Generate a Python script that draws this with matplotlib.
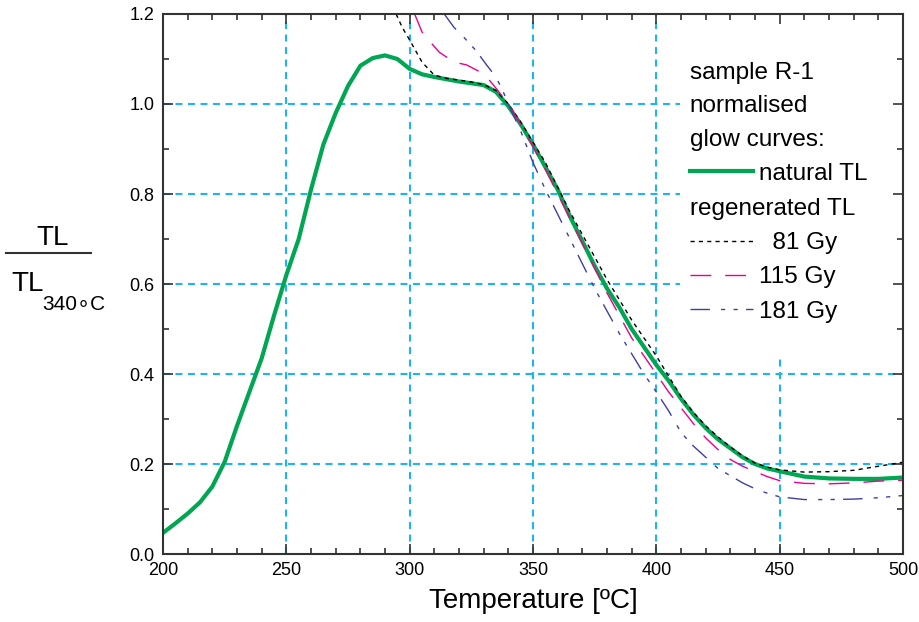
import matplotlib
matplotlib.use("Agg")
import matplotlib.pyplot as plt
from matplotlib.lines import Line2D
from matplotlib.patches import Rectangle
from matplotlib.ticker import MultipleLocator

plt.rcParams['font.family'] = ['Liberation Sans', 'DejaVu Sans']
plt.rcParams['lines.scale_dashes'] = False

# natural TL (green)
nat_t = [200, 205, 210, 215, 220, 225, 230, 235, 240, 245, 250, 255, 260, 265, 270,
         275, 280, 285, 290, 295, 300, 305, 310, 315, 320, 325, 330, 335, 340, 345,
         350, 355, 360, 365, 370, 375, 380, 385, 390, 395, 400, 405, 410, 415, 420,
         425, 430, 435, 440, 445, 450, 455, 460, 470, 480, 490, 500]
nat_tl = [0.047, 0.068, 0.090, 0.115, 0.150, 0.205, 0.285, 0.360, 0.435, 0.530, 0.620,
          0.700, 0.810, 0.910, 0.980, 1.040, 1.085, 1.102, 1.108, 1.100, 1.078, 1.066,
          1.060, 1.055, 1.050, 1.046, 1.042, 1.027, 0.995, 0.955, 0.910, 0.860, 0.810,
          0.750, 0.695, 0.640, 0.590, 0.548, 0.500, 0.460, 0.420, 0.385, 0.345, 0.310,
          0.280, 0.255, 0.235, 0.215, 0.200, 0.190, 0.184, 0.178, 0.172, 0.168, 0.167,
          0.167, 0.170]

# regenerated 81 Gy (black)
g81_t = [294.5, 297, 300, 305, 310, 315, 320, 325, 330, 335, 340, 345, 350, 355, 360,
         365, 370, 375, 380, 385, 390, 395, 400, 405, 410, 415, 420, 425, 430, 435, 440,
         445, 450, 460, 470, 480, 490, 500]
g81_tl = [1.200, 1.170, 1.142, 1.093, 1.064, 1.057, 1.053, 1.049, 1.043, 1.030, 1.000,
          0.960, 0.915, 0.870, 0.815, 0.760, 0.710, 0.660, 0.610, 0.565, 0.520, 0.480,
          0.440, 0.395, 0.350, 0.315, 0.285, 0.260, 0.238, 0.218, 0.202, 0.193, 0.187,
          0.182, 0.183, 0.186, 0.195, 0.204]

# regenerated 115 Gy (pink)
g115_t = [302, 305, 308, 312, 318, 323, 329, 332, 335, 340, 345, 350, 355, 360, 365,
          370, 375, 380, 385, 390, 395, 400, 405, 410, 415, 420, 425, 430, 435, 440,
          445, 450, 460, 470, 480, 490, 500]
g115_tl = [1.200, 1.160, 1.140, 1.115, 1.093, 1.087, 1.070, 1.055, 1.035, 1.000, 0.955,
           0.905, 0.855, 0.800, 0.745, 0.690, 0.635, 0.580, 0.530, 0.480, 0.440, 0.400,
           0.360, 0.325, 0.290, 0.258, 0.232, 0.210, 0.195, 0.183, 0.172, 0.163, 0.157,
           0.156, 0.158, 0.162, 0.164]

# regenerated 181 Gy (blue)
g181_t = [314, 318, 322, 327, 331, 335, 338, 340, 345, 350, 355, 360, 365, 370, 375,
          380, 385, 390, 395, 400, 405, 410, 415, 420, 425, 430, 435, 440, 445, 450,
          460, 470, 480, 490, 500]
g181_tl = [1.200, 1.170, 1.148, 1.118, 1.088, 1.060, 1.026, 1.000, 0.940, 0.870, 0.810,
           0.755, 0.700, 0.645, 0.590, 0.540, 0.490, 0.445, 0.400, 0.360, 0.318, 0.270,
           0.240, 0.215, 0.190, 0.174, 0.158, 0.145, 0.135, 0.127, 0.121, 0.121, 0.122,
           0.125, 0.130]

green = '#00a651'
pink = '#ec008c'
blue = '#3f3f9f'
grid_blue = '#1cb5ef'

fig = plt.figure(figsize=(9.19, 6.22), dpi=100)
ax = fig.add_axes([0.1774, 0.1093, 0.8052, 0.8682])

for v in [250, 300, 350, 400, 450]:
    ax.axvline(v, color=grid_blue, lw=1.5, dashes=(5, 4), zorder=0)
for v in [0.2, 0.4, 0.6, 0.8, 1.0]:
    ax.axhline(v, color=grid_blue, lw=1.5, dashes=(5, 4), zorder=0)

# white patch behind the legend text, hides the grid there
ax.add_patch(Rectangle((0.699, 0.37), 0.301, 0.63, transform=ax.transAxes,
                       facecolor='white', edgecolor='none', zorder=1))

l81, = ax.plot(g81_t, g81_tl, color='black', lw=1.0, dashes=(3, 3), zorder=3)
l115, = ax.plot(g115_t, g115_tl, color=pink, lw=1.0, dashes=(15, 10), zorder=3)
l181, = ax.plot(g181_t, g181_tl, color=blue, lw=1.0, dashes=(14, 8, 3, 6, 3, 6), zorder=3)
lnat, = ax.plot(nat_t, nat_tl, color=green, lw=3.0, zorder=2)

ax.set_xlim(200, 500)
ax.set_ylim(0, 1.2)
ax.xaxis.set_major_locator(MultipleLocator(50))
ax.xaxis.set_minor_locator(MultipleLocator(10))
ax.yaxis.set_major_locator(MultipleLocator(0.2))
ax.yaxis.set_minor_locator(MultipleLocator(0.1))
ax.tick_params(which='both', direction='in', top=True, right=True, width=1.2, colors='#333333',
               labelcolor='black')
ax.tick_params(which='major', length=7, labelsize=13, pad=6)
ax.tick_params(which='minor', length=4)
ax.yaxis.set_major_formatter(plt.FuncFormatter(lambda v, p: f"{v:.1f}"))
for s in ax.spines.values():
    s.set_linewidth(1.5)
    s.set_color('#333333')
    s.set_zorder(4)

ax.set_xlabel('Temperature [ºC]', fontsize=20, labelpad=6)

# fraction-style y label
fig.text(0.057, 0.617, 'TL', fontsize=20, ha='center', va='center')
fig.add_artist(Line2D([0.007, 0.099], [0.593, 0.593], transform=fig.transFigure,
                      color='#333333', lw=1.5))
fig.text(0.012, 0.543, 'TL', fontsize=20, ha='left', va='center')
fig.text(0.046, 0.510, '340\u2218C', fontsize=15, ha='left', va='center')

# legend block
fs = 17.5
leg1 = ax.legend([lnat], ['natural TL'], loc='upper left', bbox_to_anchor=(0.712, 0.912),
                 title='sample R-1\nnormalised\nglow curves:', title_fontsize=fs, fontsize=fs,
                 alignment='left', frameon=False, borderaxespad=0, borderpad=0,
                 handlelength=2.6, handletextpad=0.25, labelspacing=0.5)
leg1.get_title().set_linespacing(1.68)
leg1.set_zorder(5)
ax.add_artist(leg1)
leg2 = ax.legend([l81, l115, l181], ['  81 Gy', '115 Gy', '181 Gy'], loc='upper left',
                 bbox_to_anchor=(0.712, 0.659), title='regenerated TL', title_fontsize=fs,
                 fontsize=fs, alignment='left', frameon=False, borderaxespad=0,
                 borderpad=0, handlelength=2.6, handletextpad=0.25, labelspacing=0.5)
leg2.set_zorder(5)

fig.savefig('out.png', dpi=100)
